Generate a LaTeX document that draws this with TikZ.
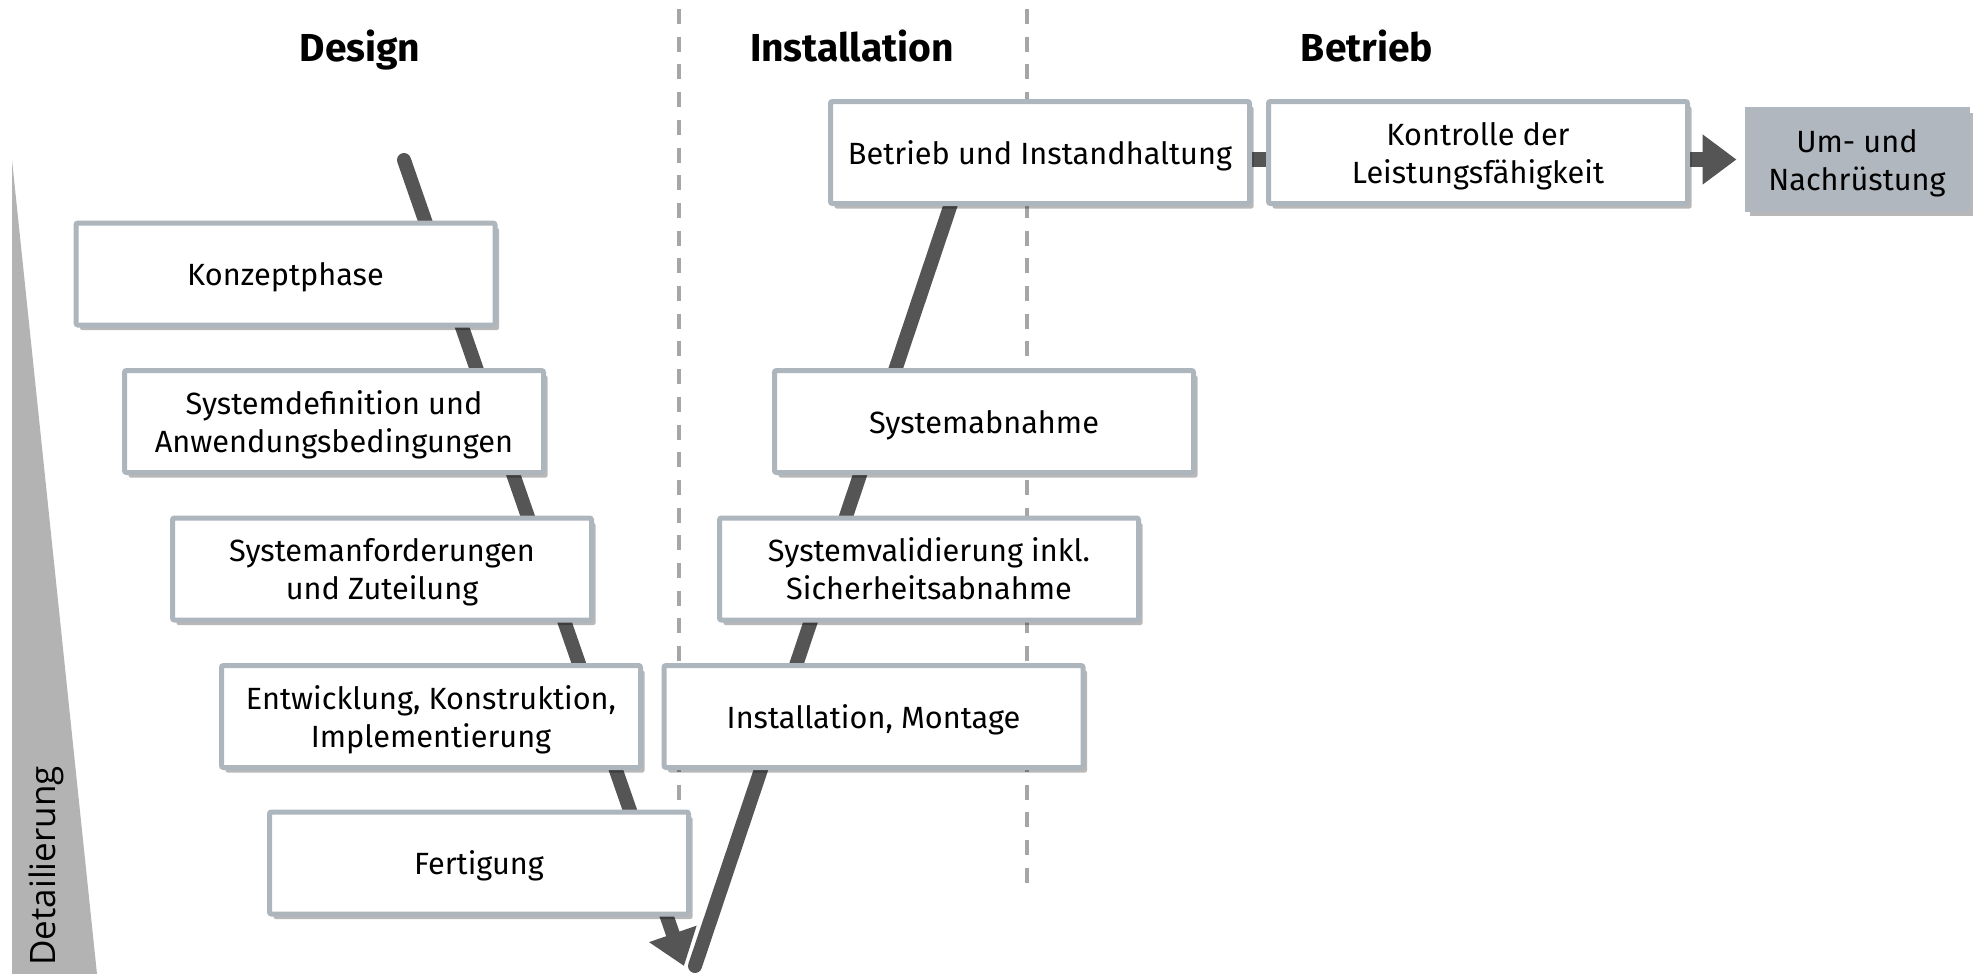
\documentclass[tikz,border=0pt]{standalone}
\usepackage{fontspec}
\setmainfont{Fira Sans}
\newfontfamily\detfont{Open Sans}
\usetikzlibrary{arrows.meta,shadows}
\definecolor{boxline}{RGB}{173,181,189}
\definecolor{umfill}{RGB}{176,183,190}
\definecolor{darkline}{RGB}{85,85,85}
\definecolor{sepgray}{RGB}{166,166,166}
\definecolor{wedgegray}{RGB}{179,179,179}
\pgfdeclarelayer{bg}
\pgfsetlayers{bg,main}
\tikzset{
  boxshadow/.style={drop shadow={shadow xshift=4pt, shadow yshift=-5pt, fill=black, opacity=0.28}},
  phase/.style={draw=boxline, line width=5pt, fill=white, rounded corners=2pt,
    minimum width=419pt, minimum height=102pt, align=center, inner sep=0pt, text depth=0pt,
    font=\fontsize{30.7}{38}\selectfont, boxshadow},
  umbox/.style={draw=umfill, line width=2pt, fill=umfill, minimum width=223pt, minimum height=103pt,
    align=center, inner sep=0pt, text depth=0pt, font=\fontsize{30.7}{38}\selectfont, boxshadow},
  title/.style={font=\bfseries\fontsize{39}{44}\selectfont, anchor=base},
  sepline/.style={draw=sepgray, line width=3.5pt, dash pattern=on 15pt off 12.7pt},
  vline/.style={draw=darkline, line width=14pt, line cap=round},
  hline/.style={draw=darkline, line width=15pt},
  bigtip/.style={-{Triangle[length=34pt,width=48pt]}}
}
\begin{document}
\begin{tikzpicture}[x=1pt,y=-1pt]
\useasboundingbox (0,0) rectangle (1976,974);

% wedge
\fill[wedgegray] (12,160) -- (97,974) -- (12,974) -- cycle;
\node[rotate=90, font=\detfont\fontsize{35}{40}\selectfont] (det) at (46,866) {Detailierung};

% titles
\node[title] (tdesign) at (360,62) {Design};
\node[title] (tinst) at (852,62) {Installation};
\node[title] (tbetr) at (1367,62) {Betrieb};

% boxes
\node[phase] (konz) at (285.5,274) {Konzeptphase};
\node[phase] (sysdef) at (334,421.5) {Systemdefinition und\\Anwendungsbedingungen};
\node[phase] (sysanf) at (382,569) {Systemanforderungen\\und Zuteilung};
\node[phase] (entw) at (431,716.5) {Entwicklung, Konstruktion,\\Implementierung};
\node[phase] (fert) at (479,863) {Fertigung};
\node[phase] (inst) at (873.5,716.5) {Installation, Montage};
\node[phase] (sysval) at (929,569) {Systemvalidierung inkl.\\Sicherheitsabnahme};
\node[phase] (sysabn) at (984,421.5) {Systemabnahme};
\node[phase] (betr) at (1040,152.5) {Betrieb und Instandhaltung};
\node[phase] (kontr) at (1478,152.5) {Kontrolle der\\Leistungsfähigkeit};
\node[umbox] (um) at (1857,159.5) {Um- und\\Nachrüstung};

% coordinates
\coordinate (d1t) at (679,9);
\coordinate (d1b) at (679,808);
\coordinate (d2t) at (1027,9);
\coordinate (d2b) at (1027,884);
\coordinate (ls) at (404,160);
\coordinate (lt) at (684,966);
\coordinate (rs) at (695,966);
\coordinate (re) at (959,180);

\begin{pgfonlayer}{bg}
  \draw[sepline] (d1t) -- (d1b);
  \draw[sepline] (d2t) -- (d2b);
  \draw[vline, bigtip] (ls) -- (lt);
  \draw[vline] (rs) -- (re);
  \draw[hline, bigtip, shorten >=8pt] (betr.east |- um.west) -- (um.west);
\end{pgfonlayer}
\end{tikzpicture}
\end{document}
